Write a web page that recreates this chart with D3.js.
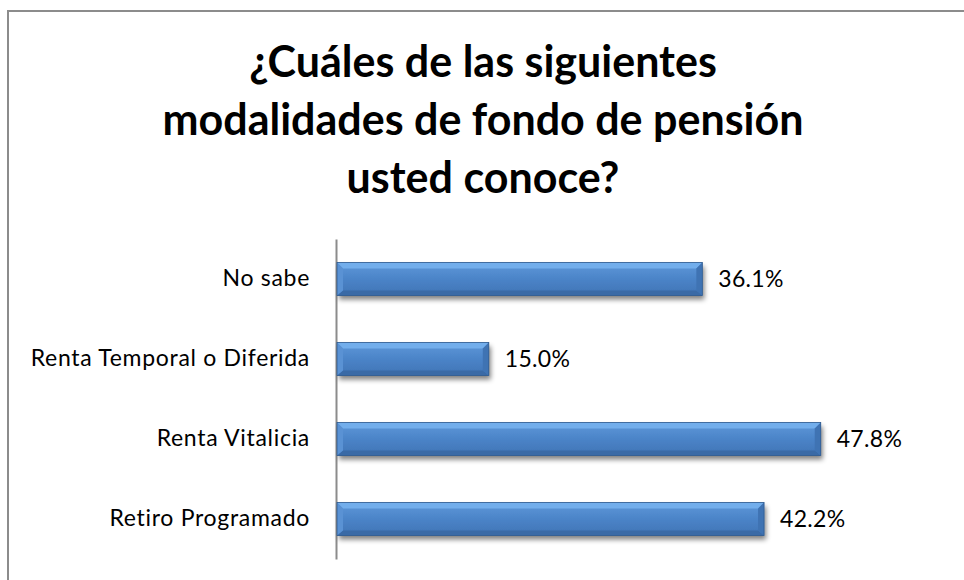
<!DOCTYPE html>
<html>
<head>
<meta charset="utf-8">
<script src="https://cdn.jsdelivr.net/npm/d3@7"></script>
<style>
html,body{margin:0;padding:0;background:#fff;}
svg{display:block;}
text{font-family:Lato,"Noto Sans",sans-serif;fill:#000;}
</style>
</head>
<body>
<svg id="chart" width="964" height="580"></svg>
<script>
const titleLines = ["¿Cuáles de las siguientes", "modalidades de fondo de pensión", "usted conoce?"];
const categories = ["No sabe", "Renta Temporal o Diferida", "Renta Vitalicia", "Retiro Programado"];
const values = [36.1, 15.0, 47.8, 42.2];
const valueLabels = ["36.1%", "15.0%", "47.8%", "42.2%"];

const W = 964, H = 580;
const svg = d3.select("#chart");
const defs = svg.append("defs");

// gradients
const g1 = defs.append("linearGradient").attr("id","barFill").attr("x1",0).attr("y1",0).attr("x2",0).attr("y2",1);
g1.append("stop").attr("offset","0%").attr("stop-color","#5d98da");
g1.append("stop").attr("offset","55%").attr("stop-color","#4a82c6");
g1.append("stop").attr("offset","100%").attr("stop-color","#3f74b5");
const sh = defs.append("filter").attr("id","shadow").attr("x","-5%").attr("y","-30%").attr("width","115%").attr("height","180%");
sh.append("feGaussianBlur").attr("in","SourceAlpha").attr("stdDeviation",2.5).attr("result","b");
sh.append("feOffset").attr("in","b").attr("dx",2).attr("dy",4).attr("result","o");
sh.append("feComponentTransfer").attr("in","o").attr("result","s")
  .append("feFuncA").attr("type","linear").attr("slope",0.5);
const mg = sh.append("feMerge");
mg.append("feMergeNode").attr("in","s");
mg.append("feMergeNode").attr("in","SourceGraphic");

// outer frame
svg.append("rect").attr("x",8).attr("y",11).attr("width",1200).attr("height",1200)
  .attr("fill","none").attr("stroke","#8c8c8c").attr("stroke-width",2);

// title
const title = svg.append("text").attr("text-anchor","middle").style("font-weight","bold").style("font-size","43px");
titleLines.forEach((t,i)=>{
  title.append("tspan").attr("x",483).attr("y",77 + i*58).text(t);
});

// scales
const x = d3.scaleLinear().domain([0,50]).range([337, 843]);
const y = d3.scaleBand().domain(categories).range([239, 559]).paddingInner(0.5875).paddingOuter(0.29375);

// category axis
const yAxis = d3.axisLeft(y).tickSize(0).tickPadding(26);
const ga = svg.append("g").attr("transform",`translate(${x(0)-1},0)`).call(yAxis);
ga.select(".domain").attr("stroke","#8c8c8c").attr("stroke-width",2);
ga.selectAll(".tick text").style("font-size","23px").style("letter-spacing","0.7px")
  .style("font-family","Lato,'Noto Sans',sans-serif").attr("fill","#000");

// bars
const data = categories.map((c,i)=>({c, v:values[i], l:valueLabels[i]}));
const bars = svg.append("g").selectAll("g.bar").data(data).join("g").attr("class","bar");
const b = 6;
bars.each(function(d){
  const g = d3.select(this);
  const x0 = x(0), x1 = x(d.v), y0 = y(d.c), y1 = y(d.c)+y.bandwidth();
  g.append("rect").attr("x",x0).attr("y",y0).attr("width",x1-x0).attr("height",y1-y0)
    .attr("fill","url(#barFill)").attr("filter","url(#shadow)");
  g.append("polygon").attr("points",[[x0,y0],[x1,y0],[x1-b,y0+b],[x0+b,y0+b]].join(" "))
    .attr("fill","#72aeec");
  g.append("polygon").attr("points",[[x0,y1],[x1,y1],[x1-b,y1-b+1],[x0+b,y1-b+1]].join(" "))
    .attr("fill","#3a6aa6");
  g.append("polygon").attr("points",[[x0,y0],[x0+b,y0+b],[x0+b,y1-b+1],[x0,y1]].join(" "))
    .attr("fill","#5a92d4");
  g.append("polygon").attr("points",[[x1,y0],[x1-b,y0+b],[x1-b,y1-b+1],[x1,y1]].join(" "))
    .attr("fill","#3f73b3");
  g.append("rect").attr("x",x0).attr("y",y0).attr("width",x1-x0).attr("height",y1-y0)
    .attr("fill","none").attr("stroke","#2f5a8e").attr("stroke-width",0.8);
  g.append("text").attr("x",x1+16).attr("y",(y0+y1)/2).attr("dy","0.36em")
    .style("font-size","23px").style("letter-spacing","0.3px").text(d.l);
});
</script>
</body>
</html>
